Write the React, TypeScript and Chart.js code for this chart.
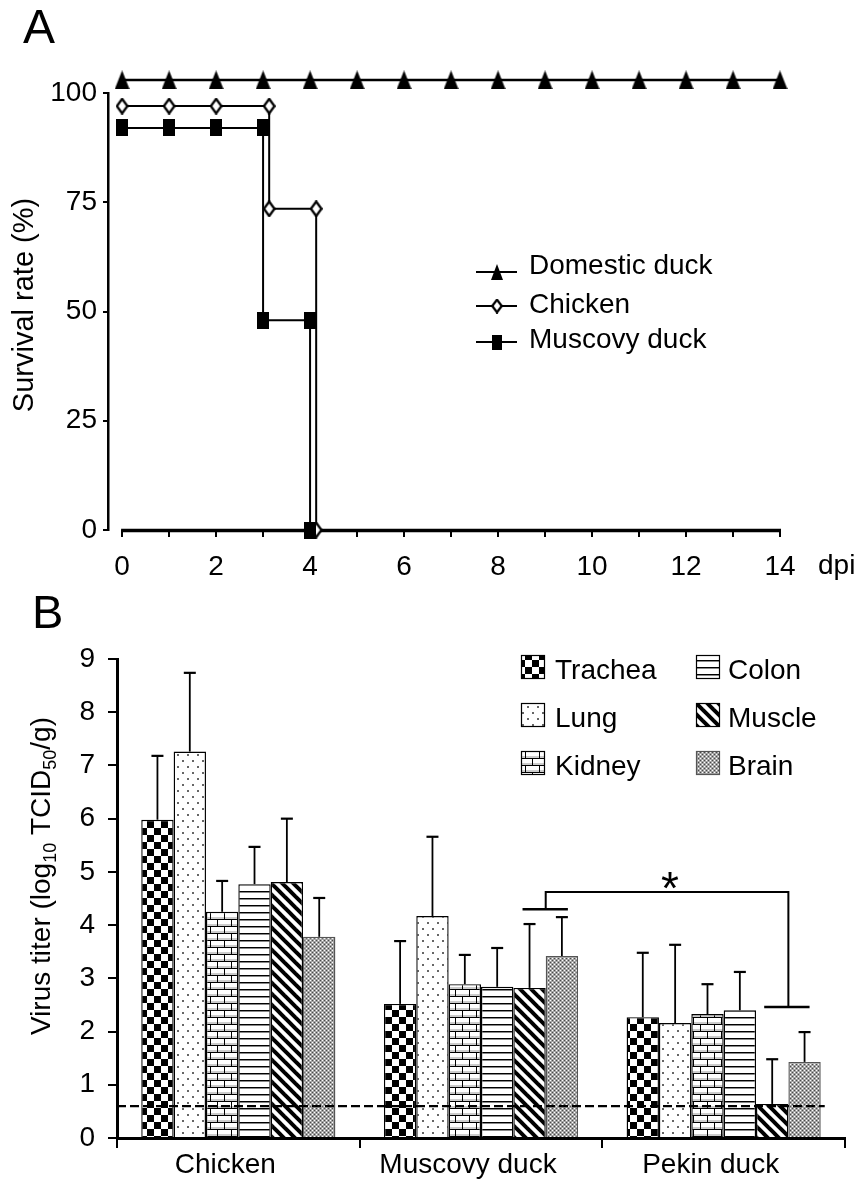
import React, { useEffect, useRef } from 'react';
import { Chart, registerables } from 'chart.js';

Chart.register(...registerables);

const FONT = '"Liberation Sans", Arial, Helvetica, sans-serif';

// ---------- Panel A: survival ----------
const domesticDays = [0, 1, 2, 3, 4, 5, 6, 7, 8, 9, 10, 11, 12, 13, 14];
const domesticSurvival = [103, 103, 103, 103, 103, 103, 103, 103, 103, 103, 103, 103, 103, 103, 103];
const chickenDays = [0, 1, 2, 3.13, 3.13, 4.13, 4.13];
const chickenSurvival = [97, 97, 97, 97, 73.5, 73.5, 0];
const muscovyDays = [0, 1, 2, 3, 3, 4, 4];
const muscovySurvival = [92, 92, 92, 92, 48, 48, 0];
const survivalLegend = ['Domestic duck', 'Chicken', 'Muscovy duck'];
const dpiMin = -0.3;
const dpiMax = 14;
const survivalMax = 100;
const survivalStep = 25;

// ---------- Panel B: virus titers ----------
const hosts = ['Chicken', 'Muscovy duck', 'Pekin duck'];
const tissues = ['Trachea', 'Lung', 'Kidney', 'Colon', 'Muscle', 'Brain'];
const tracheaTiter = [5.98, 2.52, 2.27];
const lungTiter = [7.26, 4.17, 2.16];
const kidneyTiter = [4.25, 2.89, 2.33];
const colonTiter = [4.77, 2.84, 2.4];
const muscleTiter = [4.81, 2.82, 0.64];
const brainTiter = [3.78, 3.42, 1.43];
const tracheaSD = [1.2, 1.18, 1.21];
const lungSD = [1.48, 1.49, 1.47];
const kidneySD = [0.58, 0.55, 0.56];
const colonSD = [0.7, 0.73, 0.72];
const muscleSD = [1.19, 1.2, 0.84];
const brainSD = [0.73, 0.73, 0.56];
const titerMax = 9;
const detectionLimit = 0.6;
const sigMuscovyLevel = 4.3;
const sigBracketTop = 4.62;
const sigPekinLevel = 2.46;

const titers = [tracheaTiter, lungTiter, kidneyTiter, colonTiter, muscleTiter, brainTiter];
const sds = [tracheaSD, lungSD, kidneySD, colonSD, muscleSD, brainSD];

function makeTile(w: number, h: number, draw: (g: CanvasRenderingContext2D) => void) {
  const c = document.createElement('canvas');
  c.width = w;
  c.height = h;
  const g = c.getContext('2d')!;
  draw(g);
  return c;
}

function makeMarker(kind: string, w: number, h: number) {
  return makeTile(w, h, (g) => {
    if (kind === 'triangle') {
      g.fillStyle = '#000';
      g.beginPath();
      g.moveTo(w / 2, 0);
      g.lineTo(w, h);
      g.lineTo(0, h);
      g.closePath();
      g.fill();
    } else if (kind === 'rect') {
      g.fillStyle = '#000';
      g.fillRect(0, 0, w, h);
    } else {
      g.fillStyle = '#fff';
      g.strokeStyle = '#000';
      g.lineWidth = 2.3;
      g.beginPath();
      g.moveTo(w / 2, 1.2);
      g.lineTo(w - 1.2, h / 2);
      g.lineTo(w / 2, h - 1.2);
      g.lineTo(1.2, h / 2);
      g.closePath();
      g.fill();
      g.stroke();
    }
  });
}

function makePatterns(ctx: CanvasRenderingContext2D) {
  const checker = makeTile(14, 14, (g) => {
    g.fillStyle = '#fff';
    g.fillRect(0, 0, 14, 14);
    g.fillStyle = '#000';
    g.fillRect(0, 0, 7, 7);
    g.fillRect(7, 7, 7, 7);
  });
  const dots = makeTile(10, 12, (g) => {
    g.fillStyle = '#fff';
    g.fillRect(0, 0, 10, 12);
    g.fillStyle = '#666';
    g.fillRect(2, 2, 2, 2);
    g.fillRect(7, 8, 2, 2);
  });
  const brick = makeTile(14, 14, (g) => {
    g.fillStyle = '#fff';
    g.fillRect(0, 0, 14, 14);
    g.fillStyle = '#ccc';
    g.fillRect(0, 5, 14, 2);
    g.fillRect(0, 12, 14, 2);
    g.fillStyle = '#000';
    g.fillRect(0, 0, 14, 1);
    g.fillRect(0, 7, 14, 1);
    g.fillRect(0, 0, 1, 7);
    g.fillRect(7, 7, 1, 7);
  });
  const hlines = makeTile(8, 7, (g) => {
    g.fillStyle = '#fff';
    g.fillRect(0, 0, 8, 7);
    g.fillStyle = '#000';
    g.fillRect(0, 0, 8, 1);
    g.fillStyle = '#888';
    g.fillRect(0, 1, 8, 1);
  });
  const diag = makeTile(11, 11, (g) => {
    g.fillStyle = '#fff';
    g.fillRect(0, 0, 11, 11);
    g.strokeStyle = '#000';
    g.lineWidth = 4;
    for (const k of [-11, 0, 11]) {
      g.beginPath();
      g.moveTo(k - 2, -2);
      g.lineTo(k + 13, 13);
      g.stroke();
    }
  });
  const fine = makeTile(4, 4, (g) => {
    g.fillStyle = '#a4a4a4';
    g.fillRect(0, 0, 4, 4);
    g.fillStyle = '#fff';
    g.fillRect(0, 0, 1, 1);
    g.fillRect(2, 2, 1, 1);
    g.fillStyle = '#4a4a4a';
    g.fillRect(2, 0, 1, 1);
    g.fillRect(0, 2, 1, 1);
  });
  return [checker, dots, brick, hlines, diag, fine].map((t) => ctx.createPattern(t, 'repeat')!);
}

const tickFont = { family: FONT, size: 28 };

function SurvivalChart() {
  const ref = useRef<HTMLCanvasElement>(null);
  useEffect(() => {
    const canvas = ref.current!;
    const tri = makeMarker('triangle', 15, 19);
    const dia = makeMarker('diamond', 13, 17);
    const sq = makeMarker('rect', 12, 17);
    const triL = makeMarker('triangle', 12, 16);
    const diaL = makeMarker('diamond', 12, 15);
    const sqL = makeMarker('rect', 10, 15);

    const toPts = (xs: number[], ys: number[]) => xs.map((x, i) => ({ x, y: ys[i] }));

    const annotA = {
      id: 'annotA',
      beforeDatasetsDraw(chart: any) {
        const { ctx } = chart;
        const xs = chart.scales.x;
        const ys = chart.scales.y;
        ctx.save();
        ctx.strokeStyle = '#000';
        ctx.lineWidth = 3.5;
        ctx.beginPath();
        ctx.moveTo(xs.getPixelForValue(0) - 1, ys.getPixelForValue(0) + 0.5);
        ctx.lineTo(xs.getPixelForValue(dpiMax) + 1, ys.getPixelForValue(0) + 0.5);
        ctx.stroke();
        ctx.restore();
      },
      afterDraw(chart: any) {
        const { ctx } = chart;
        const xs = chart.scales.x;
        ctx.save();
        ctx.fillStyle = '#000';
        ctx.textBaseline = 'alphabetic';
        ctx.textAlign = 'left';
        ctx.font = `48px ${FONT}`;
        ctx.fillText('A', 23, 43);
        ctx.font = `28px ${FONT}`;
        ctx.fillText('dpi', xs.getPixelForValue(dpiMax) + 38, 574);
        // y title
        ctx.save();
        ctx.translate(33, 305);
        ctx.rotate(-Math.PI / 2);
        ctx.textAlign = 'center';
        ctx.font = `29px ${FONT}`;
        ctx.fillText('Survival rate (%)', 0, 0);
        ctx.restore();
        // legend
        const markers = [triL, diaL, sqL];
        const lineY = [272, 306, 342];
        const textY = [274, 313, 348];
        survivalLegend.forEach((name, i) => {
          ctx.strokeStyle = '#000';
          ctx.lineWidth = 2;
          ctx.beginPath();
          ctx.moveTo(476, lineY[i]);
          ctx.lineTo(517, lineY[i]);
          ctx.stroke();
          const m = markers[i];
          ctx.drawImage(m, 497 - m.width / 2, lineY[i] - m.height / 2);
          ctx.font = `28px ${FONT}`;
          ctx.textAlign = 'left';
          ctx.fillText(name, 529, textY[i]);
        });
        ctx.restore();
      },
    };

    const chart = new Chart(canvas, {
      type: 'line',
      data: {
        datasets: [
          {
            label: 'Muscovy duck',
            data: toPts(muscovyDays, muscovySurvival),
            borderColor: '#000',
            borderWidth: 2,
            pointStyle: sq,
            pointRadius: 14,
            clip: false,
          },
          {
            label: 'Chicken',
            data: toPts(chickenDays, chickenSurvival),
            borderColor: '#000',
            borderWidth: 2,
            pointStyle: dia,
            pointRadius: 14,
            clip: false,
          },
          {
            label: 'Domestic duck',
            data: toPts(domesticDays, domesticSurvival),
            borderColor: '#000',
            borderWidth: 2.5,
            pointStyle: tri,
            pointRadius: 14,
            clip: false,
          },
        ] as any,
      },
      options: {
        responsive: false,
        animation: false,
        events: [],
        layout: { padding: { left: 0, right: 80, top: 93, bottom: 0 } },
        plugins: { legend: { display: false }, tooltip: { enabled: false } },
        scales: {
          x: {
            type: 'linear',
            min: dpiMin,
            max: dpiMax,
            afterFit: (s: any) => {
              s.height = 60;
            },
            border: { display: false },
            grid: { drawOnChartArea: false, drawTicks: true, tickLength: 7, lineWidth: 2, color: '#000' },
            ticks: {
              stepSize: 1,
              includeBounds: false,
              autoSkip: false,
              maxRotation: 0,
              padding: 13,
              font: tickFont,
              color: '#000',
              callback: (v: any) => (Math.round(v) % 2 === 0 ? String(Math.round(v)) : ''),
            },
          },
          y: {
            min: 0,
            max: survivalMax,
            afterFit: (s: any) => {
              s.width = 108;
            },
            border: { display: true, color: '#000', width: 2.5 },
            grid: { drawOnChartArea: false, tickLength: 5, lineWidth: 2, color: '#000' },
            ticks: { stepSize: survivalStep, padding: 6, font: tickFont, color: '#000' },
          },
        } as any,
      },
      plugins: [annotA],
    });
    return () => chart.destroy();
  }, []);
  return <canvas ref={ref} width={860} height={590} style={{ position: 'absolute', left: 0, top: 0, width: 860, height: 590 }} />;
}

function TiterChart() {
  const ref = useRef<HTMLCanvasElement>(null);
  useEffect(() => {
    const canvas = ref.current!;
    const ctx0 = canvas.getContext('2d')!;
    const patterns = makePatterns(ctx0);

    const annotB = {
      id: 'annotB',
      afterDatasetsDraw(chart: any) {
        const { ctx, chartArea } = chart;
        const ys = chart.scales.y;
        ctx.save();
        // detection limit
        const lastBar = chart.getDatasetMeta(5).data[2];
        ctx.strokeStyle = '#000';
        ctx.lineWidth = 2.3;
        ctx.setLineDash([9, 4]);
        ctx.beginPath();
        ctx.moveTo(chartArea.left, ys.getPixelForValue(detectionLimit));
        ctx.lineTo(lastBar.x + lastBar.width / 2 + 4, ys.getPixelForValue(detectionLimit));
        ctx.stroke();
        ctx.setLineDash([]);
        // error bars
        titers.forEach((vals, di) => {
          const meta = chart.getDatasetMeta(di);
          meta.data.forEach((bar: any, i: number) => {
            const top = ys.getPixelForValue(vals[i] + sds[di][i]);
            ctx.lineWidth = 1.8;
            ctx.beginPath();
            ctx.moveTo(bar.x, bar.y);
            ctx.lineTo(bar.x, top);
            ctx.stroke();
            ctx.lineWidth = 2.2;
            ctx.beginPath();
            ctx.moveTo(bar.x - 6, top);
            ctx.lineTo(bar.x + 6, top);
            ctx.stroke();
          });
        });
        // significance bracket
        const mus = chart.getDatasetMeta(4).data;
        const br = chart.getDatasetMeta(5).data;
        const yM = ys.getPixelForValue(sigMuscovyLevel);
        const yT = ys.getPixelForValue(sigBracketTop);
        const yP = ys.getPixelForValue(sigPekinLevel);
        const mid1 = (mus[1].x + br[1].x) / 2;
        const mid2 = (mus[2].x + br[2].x) / 2;
        ctx.lineWidth = 2.5;
        ctx.beginPath();
        ctx.moveTo(mus[1].x - 7, yM);
        ctx.lineTo(br[1].x + 6, yM);
        ctx.moveTo(mus[2].x - 8, yP);
        ctx.lineTo(br[2].x + 5, yP);
        ctx.stroke();
        ctx.lineWidth = 2;
        ctx.beginPath();
        ctx.moveTo(mid1, yM);
        ctx.lineTo(mid1, yT);
        ctx.lineTo(mid2, yT);
        ctx.lineTo(mid2, yP);
        ctx.stroke();
        ctx.fillStyle = '#000';
        ctx.font = `46px ${FONT}`;
        ctx.textAlign = 'center';
        ctx.textBaseline = 'alphabetic';
        ctx.fillText('*', (mid1 + mid2) / 2 + 3, yT + 12);
        ctx.restore();
      },
      afterDraw(chart: any) {
        const { ctx } = chart;
        ctx.save();
        ctx.fillStyle = '#000';
        ctx.textBaseline = 'alphabetic';
        ctx.textAlign = 'left';
        ctx.font = `47px ${FONT}`;
        ctx.fillText('B', 32, 38);
        // y title with subscripts
        ctx.save();
        ctx.translate(50, 286);
        ctx.rotate(-Math.PI / 2);
        const parts: [string, number, number][] = [
          ['Virus titer (log', 28, 0],
          ['10', 18, 6],
          [' TCID', 28, 0],
          ['50', 18, 6],
          ['/g)', 28, 0],
        ];
        let total = 0;
        parts.forEach(([t, s]) => {
          ctx.font = `${s}px ${FONT}`;
          total += ctx.measureText(t).width;
        });
        let x = -total / 2;
        parts.forEach(([t, s, dy]) => {
          ctx.font = `${s}px ${FONT}`;
          ctx.fillText(t, x, dy);
          x += ctx.measureText(t).width;
        });
        ctx.restore();
        // legend (two columns)
        const colX = [521, 696];
        const textX = [555, 728];
        const rowTop = [65, 113, 161];
        tissues.forEach((name, i) => {
          const c = Math.floor(i / 3);
          const r = i % 3;
          ctx.fillStyle = patterns[i];
          ctx.fillRect(colX[c], rowTop[r], 24, 24);
          ctx.strokeStyle = i === 5 ? '#555' : '#000';
          ctx.lineWidth = 1.2;
          ctx.strokeRect(colX[c] + 0.5, rowTop[r] + 0.5, 23, 23);
          ctx.fillStyle = '#000';
          ctx.font = `28px ${FONT}`;
          ctx.fillText(name, textX[c], rowTop[r] + 24);
        });
        ctx.restore();
      },
    };

    const chart = new Chart(canvas, {
      type: 'bar',
      data: {
        labels: hosts,
        datasets: tissues.map((t, i) => ({
          label: t,
          data: titers[i],
          backgroundColor: patterns[i],
          borderColor: i === 5 ? '#555' : '#000',
          borderWidth: 1.4,
          barPercentage: 1,
          categoryPercentage: 0.8,
        })) as any,
      },
      options: {
        responsive: false,
        animation: false,
        events: [],
        layout: { padding: { left: 0, right: 15, top: 69, bottom: 0 } },
        plugins: { legend: { display: false }, tooltip: { enabled: false } },
        scales: {
          x: {
            afterFit: (s: any) => {
              s.height = 44;
            },
            border: { display: true, color: '#000', width: 3 },
            grid: { offset: true, drawOnChartArea: false, tickLength: 10, lineWidth: 2, color: '#000' },
            ticks: { autoSkip: false, maxRotation: 0, padding: 0, labelOffset: -13, font: tickFont, color: '#000' },
          },
          y: {
            min: 0,
            max: titerMax,
            afterFit: (s: any) => {
              s.width = 117;
            },
            border: { display: true, color: '#000', width: 3 },
            grid: { drawOnChartArea: false, tickLength: 9, lineWidth: 2, color: '#000' },
            ticks: { stepSize: 1, padding: 13, font: tickFont, color: '#000' },
          },
        } as any,
      },
      plugins: [annotB],
    });
    return () => chart.destroy();
  }, []);
  return <canvas ref={ref} width={860} height={592} style={{ position: 'absolute', left: 0, top: 590, width: 860, height: 592 }} />;
}

export default function App() {
  return (
    <div style={{ position: 'absolute', left: 0, top: 0, width: 860, height: 1182, background: '#fff', overflow: 'hidden' }}>
      <SurvivalChart />
      <TiterChart />
    </div>
  );
}
